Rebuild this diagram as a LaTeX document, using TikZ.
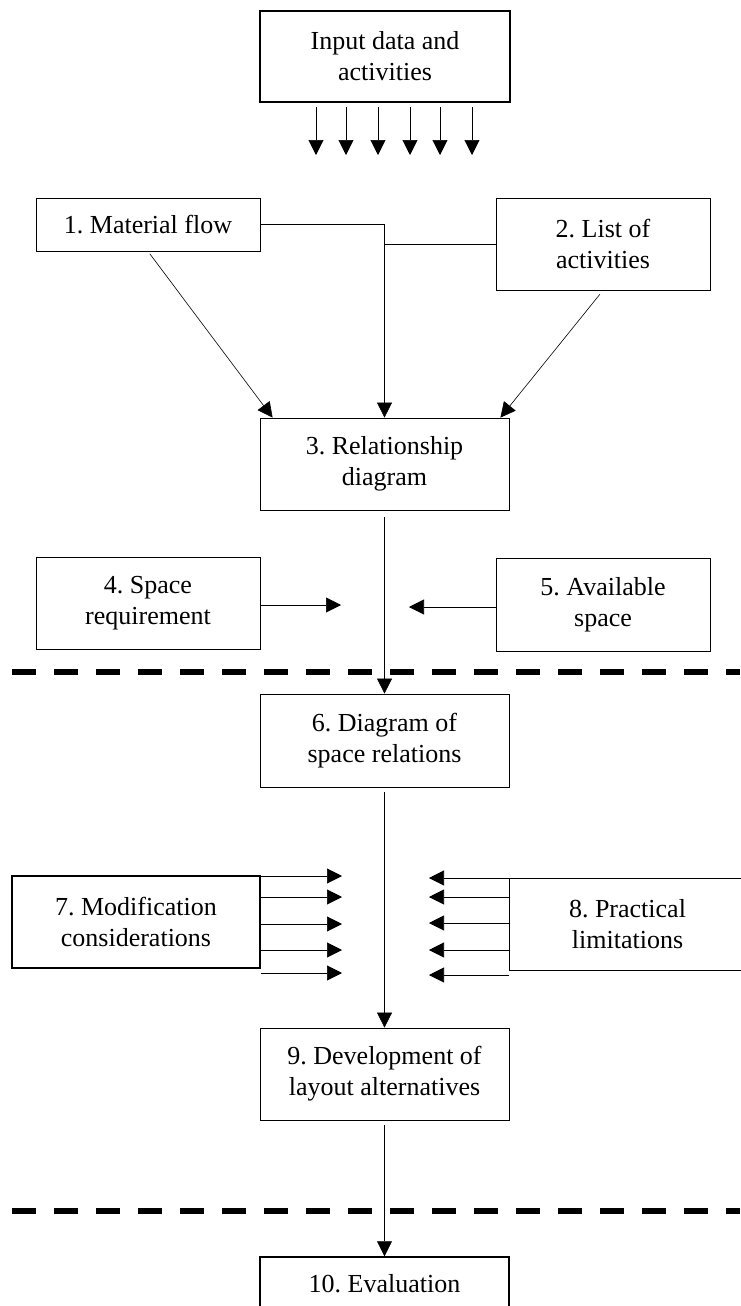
\documentclass[tikz,border=0pt]{standalone}
\usepackage{fontspec}
\setmainfont{Liberation Serif}
\usetikzlibrary{arrows.meta, positioning}
\frenchspacing

\begin{document}
\begin{tikzpicture}[x=1pt, y=-1pt,
    box/.style={draw, line width=0.8pt, align=center, inner sep=0pt,
        minimum height=92pt, font=\fontsize{26}{31}\selectfont},
    thickbox/.style={box, line width=1.5pt},
    flow/.style={line width=0.6pt, -{Triangle[length=15pt, width=15pt]}},
    phase/.style={line width=5.5pt, dash pattern=on 24pt off 18pt}]

\useasboundingbox (0, 0) rectangle (740, 1306);

% input
\node[thickbox, minimum width=250pt, minimum height=91pt] (input) at (385, 56.5) {Input data and\\activities};

\foreach \x [count=\n] in {316, 346, 378, 410, 440, 472} {
    \coordinate (input-top-\n) at (\x, 107);
    \coordinate (input-tip-\n) at (\x, 155);
    \draw[flow] (input-top-\n) -- (input-tip-\n);
}

% first stage
\node[box, minimum width=224pt, minimum height=53pt] (material) at (148, 224.5) {1. Material flow};
\node[box, minimum width=214pt] (activities) at (603, 244) {2. List of\\activities};
\node[box, minimum width=249pt] (relationship) at (384.5, 464) {3. Relationship\\diagram};

\draw[flow] (material.east) -| (relationship.north);
\draw[line width=0.6pt] (activities.west) -- (relationship.north |- activities.west);
\draw[flow, shorten <=3pt] (material.south) -- ([xshift=13pt]relationship.north west);
\draw[flow, shorten <=5pt] (activities.south) -- ([xshift=-9pt]relationship.north east);

% space
\node[box, minimum width=224pt] (requirement) at (148, 603) {4. Space\\requirement};
\node[box, minimum width=214pt, minimum height=93pt] (available) at (603, 604.5) {5. Available\\space};

\coordinate (requirement-tip) at (341, 605);
\coordinate (available-tip) at (409, 607);
\draw[flow] (requirement.east |- requirement-tip) -- (requirement-tip);
\draw[flow] (available.west |- available-tip) -- (available-tip);

\draw[phase] (12, 672) -- (740, 672);

\node[box, minimum width=249pt, minimum height=93pt] (spacerel) at (384.5, 740.5) {6. Diagram of\\space relations};
\draw[flow, shorten <=7pt] (relationship.south) -- (spacerel.north);

% modifications and limitations
\node[thickbox, minimum width=248pt] (modification) at (136, 922) {7. Modification\\considerations};
\node[box, minimum width=237pt] (limitations) at (627.5, 924) {8. Practical\\limitations};

\foreach \y [count=\n] in {876, 897, 924, 950, 973} {
    \coordinate (modification-tip-\n) at (342, \y);
    \draw[flow] (modification.east |- modification-tip-\n) -- (modification-tip-\n);
}

\foreach \y [count=\n] in {878, 897, 923, 950, 975} {
    \coordinate (limitations-tip-\n) at (429, \y);
    \draw[flow] (limitations.west |- limitations-tip-\n) -- (limitations-tip-\n);
}

\node[box, minimum width=249pt] (alternatives) at (384.5, 1074) {9. Development of\\layout alternatives};
\draw[flow, shorten <=5pt] (spacerel.south) -- (alternatives.north);

\draw[phase] (12, 1211) -- (740, 1211);

% evaluation
\node[thickbox, minimum width=249pt, minimum height=54pt] (evaluation) at (384.5, 1284) {10. Evaluation};
\draw[flow, shorten <=5pt] (alternatives.south) -- (evaluation.north);

\end{tikzpicture}
\end{document}
